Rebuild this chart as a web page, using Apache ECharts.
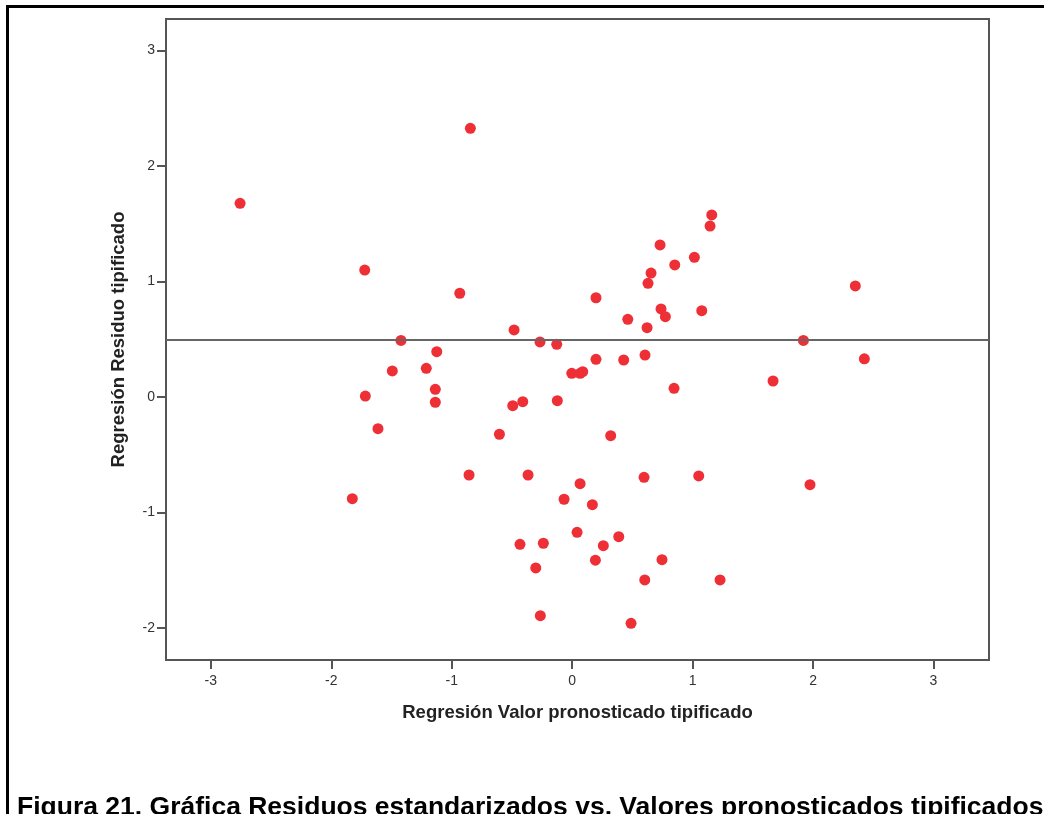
<!DOCTYPE html>
<html>
<head>
<meta charset="utf-8">
<script src="https://cdn.jsdelivr.net/npm/echarts@6/dist/echarts.min.js"></script>
<style>
  html, body { margin: 0; padding: 0; background: #fff; }
  #chart { width: 1044px; height: 814px; }
</style>
</head>
<body>
<div id="chart"></div>
<script>
// valor pronosticado tipificado (x) / residuo tipificado (y)
var xValues = [-2.757, -0.845, -1.722, -0.933, -1.421, -1.124, -1.211, -1.493, -1.136, -1.717,
  -1.136, -1.612, -1.825, -0.482, -0.267, -0.128, -0.003, 0.066, 0.088, 0.198,
  0.428, 0.605, 0.198, 0.462, 0.622, 0.630, 0.655, 0.730, 0.738, 0.774,
  0.852, 1.015, 1.076, 1.159, 1.145, 0.846, 1.668, 1.920, 2.351, 2.426,
  1.975, 1.051, 0.597, 0.320, -0.123, -0.493, -0.410, -0.604, -0.856, -0.366,
  0.066, -0.067, 0.168, 0.041, 0.387, 0.259, -0.433, -0.239, -0.302, 0.193,
  0.746, 0.603, 1.228, -0.264, 0.489];
var yValues = [1.678, 2.327, 1.100, 0.899, 0.490, 0.393, 0.249, 0.226, 0.067, 0.009,
  -0.045, -0.274, -0.880, 0.581, 0.477, 0.457, 0.206, 0.206, 0.220, 0.327,
  0.321, 0.364, 0.860, 0.673, 0.601, 0.985, 1.074, 1.317, 0.763, 0.696,
  1.144, 1.210, 0.748, 1.577, 1.481, 0.076, 0.139, 0.490, 0.962, 0.331,
  -0.759, -0.683, -0.695, -0.334, -0.031, -0.075, -0.040, -0.322, -0.675, -0.675,
  -0.750, -0.885, -0.932, -1.171, -1.209, -1.287, -1.275, -1.266, -1.480, -1.413,
  -1.408, -1.584, -1.584, -1.893, -1.959];
var xTicks = [-3, -2, -1, 0, 1, 2, 3];
var yTicks = [-2, -1, 0, 1, 2, 3];
var refLine = 0.5;

var points = xValues.map(function (x, i) {
  return [x, yValues[i]];
});

var chart = echarts.init(document.getElementById('chart'), null, { renderer: 'canvas' });

var axisColor = '#555';
var font = '"Liberation Sans", Arial, sans-serif';

var option = {
  backgroundColor: '#fff',
  animation: false,
  title: {
    text: 'Figura 21. Gráfica Residuos estandarizados vs. Valores pronosticados tipificados',
    left: 17,
    top: 794,
    padding: 0,
    textStyle: { fontFamily: font, fontSize: 26.5, fontWeight: 'bold', color: '#000' }
  },
  graphic: [{
    type: 'rect',
    silent: true,
    shape: { x: 7.5, y: 6.5, width: 1200, height: 1200 },
    style: { fill: 'none', stroke: '#000', lineWidth: 3 }
  }],
  grid: {
    left: 166,
    top: 19,
    right: 55,
    bottom: 154,
    show: true,
    borderColor: axisColor,
    borderWidth: 2,
    backgroundColor: '#fff',
    outerBoundsMode: 'none'
  },
  xAxis: {
    type: 'value',
    min: -3.372,
    max: 3.461,
    name: 'Regresión Valor pronosticado tipificado',
    nameLocation: 'middle',
    nameGap: 43,
    nameTextStyle: { fontFamily: font, fontSize: 18.5, fontWeight: 'bold', color: '#222' },
    splitLine: { show: false },
    axisLine: { show: true, onZero: false, lineStyle: { color: axisColor, width: 2 } },
    axisTick: { show: true, length: 9, customValues: xTicks, lineStyle: { color: axisColor, width: 2 } },
    axisLabel: { customValues: xTicks, margin: 14, fontFamily: font, fontSize: 14, color: '#333' }
  },
  yAxis: {
    type: 'value',
    min: -2.277,
    max: 3.274,
    name: 'Regresión Residuo tipificado',
    nameLocation: 'middle',
    nameGap: 38,
    nameTextStyle: { fontFamily: font, fontSize: 18.5, fontWeight: 'bold', color: '#222' },
    splitLine: { show: false },
    axisLine: { show: true, onZero: false, lineStyle: { color: axisColor, width: 2 } },
    axisTick: { show: true, length: 9, customValues: yTicks, lineStyle: { color: axisColor, width: 2 } },
    axisLabel: { customValues: yTicks, margin: 11, fontFamily: font, fontSize: 14, color: '#333' }
  },
  series: [{
    type: 'scatter',
    data: points,
    symbol: 'circle',
    symbolSize: 11,
    itemStyle: { color: '#EE2F36', opacity: 1 },
    markLine: {
      silent: true,
      symbol: 'none',
      label: { show: false },
      lineStyle: { color: '#666', width: 2, type: 'solid' },
      data: [{ yAxis: refLine }]
    }
  }]
};

chart.setOption(option);
</script>
</body>
</html>
